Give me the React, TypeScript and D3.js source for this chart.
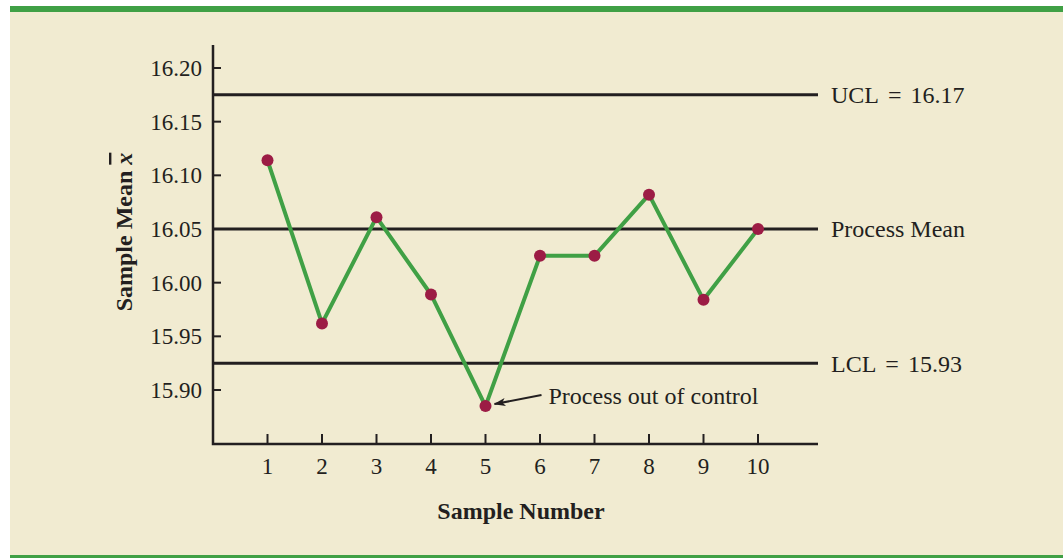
import * as d3 from 'd3';

const sampleNumbers = [1, 2, 3, 4, 5, 6, 7, 8, 9, 10];
const sampleMeans = [16.114, 15.962, 16.061, 15.989, 15.885, 16.025, 16.025, 16.082, 15.984, 16.05];
const yTicks = [15.9, 15.95, 16.0, 16.05, 16.1, 16.15, 16.2];
const controlLines = [
  { value: 16.175, name: 'UCL', shown: '16.17' },
  { value: 16.05, name: 'Process Mean', shown: '' },
  { value: 15.925, name: 'LCL', shown: '15.93' },
];
const outOfControlIndex = 4;

const W = 1063;
const H = 558;
const font = '"Liberation Serif", "Times New Roman", serif';

export default function App() {
  const x = d3.scaleLinear().domain([0, 1]).range([213, 267.5]);
  const y = d3.scaleLinear().domain([15.9, 16.2]).range([390, 68]);
  const x0 = 213;
  const x1 = 818;
  const yTop = 45;
  const yBase = 444;

  const line = d3.line<number>()
    .x((_, i) => x(sampleNumbers[i]))
    .y(d => y(d));

  const px = x(sampleNumbers[outOfControlIndex]);
  const py = y(sampleMeans[outOfControlIndex]);

  return (
    <svg width={W} height={H} style={{ position: 'absolute', left: 0, top: 0, display: 'block' }}
      fontFamily={font}>
      <defs>
        <marker id="arrow" viewBox="0 0 12 8" refX="11" refY="4" markerWidth="12" markerHeight="8"
          markerUnits="userSpaceOnUse" orient="auto">
          <path d="M0,0 L12,4 L0,8 L3,4 Z" fill="#231f20" />
        </marker>
      </defs>
      <rect x={10} y={6} width={W - 10} height={H - 6} fill="#f1ebd1" />
      <rect x={10} y={6} width={W - 10} height={6} fill="#40a045" />
      <rect x={10} y={555} width={W - 10} height={3} fill="#40a045" />

      {/* axes */}
      <path d={`M${x0},${yTop} V${yBase} H${x1}`} fill="none" stroke="#231f20" strokeWidth={2.5} />
      {yTicks.map(t => (
        <g key={t}>
          <line x1={x0} x2={x0 + 8} y1={y(t)} y2={y(t)} stroke="#231f20" strokeWidth={2} />
          <text x={x0 - 11} y={y(t)} dy="0.35em" textAnchor="end" fontSize={23} fill="#231f20">
            {t.toFixed(2)}
          </text>
        </g>
      ))}
      {sampleNumbers.map(n => (
        <g key={n}>
          <line x1={x(n)} x2={x(n)} y1={yBase} y2={yBase - 10} stroke="#231f20" strokeWidth={2} />
          <text x={x(n)} y={yBase + 30} textAnchor="middle" fontSize={23} fill="#231f20">{n}</text>
        </g>
      ))}

      {/* control lines */}
      {controlLines.map(c => (
        <g key={c.name}>
          <line x1={x0} x2={x1} y1={y(c.value)} y2={y(c.value)} stroke="#231f20" strokeWidth={3} />
          <text x={831} y={y(c.value)} dy="0.35em" fontSize={24} fill="#231f20">
            {c.name}
            {c.shown && <tspan dx={9}>=</tspan>}
            {c.shown && <tspan dx={9}>{c.shown}</tspan>}
          </text>
        </g>
      ))}

      <path d={line(sampleMeans) || ''} fill="none" stroke="#40a045" strokeWidth={4} strokeLinejoin="round" />
      {sampleMeans.map((v, i) => (
        <circle key={i} cx={x(sampleNumbers[i])} cy={y(v)} r={6} fill="#9c1c45" />
      ))}

      {/* annotation */}
      <line x1={px + 56} y1={py - 11} x2={px + 9} y2={py - 2} stroke="#231f20" strokeWidth={2}
        markerEnd="url(#arrow)" />
      <text x={px + 63} y={py - 11} dy="0.35em" fontSize={24} fill="#231f20">Process out of control</text>

      {/* axis titles */}
      <text x={521} y={519} textAnchor="middle" fontSize={24} fontWeight="bold" fill="#231f20">
        Sample Number
      </text>
      <text transform="translate(132,232) rotate(-90)" textAnchor="middle" fontSize={24}
        fontWeight="bold" fill="#231f20">
        Sample Mean <tspan fontStyle="italic" style={{ textDecoration: 'overline' }}>x</tspan>
      </text>
    </svg>
  );
}
